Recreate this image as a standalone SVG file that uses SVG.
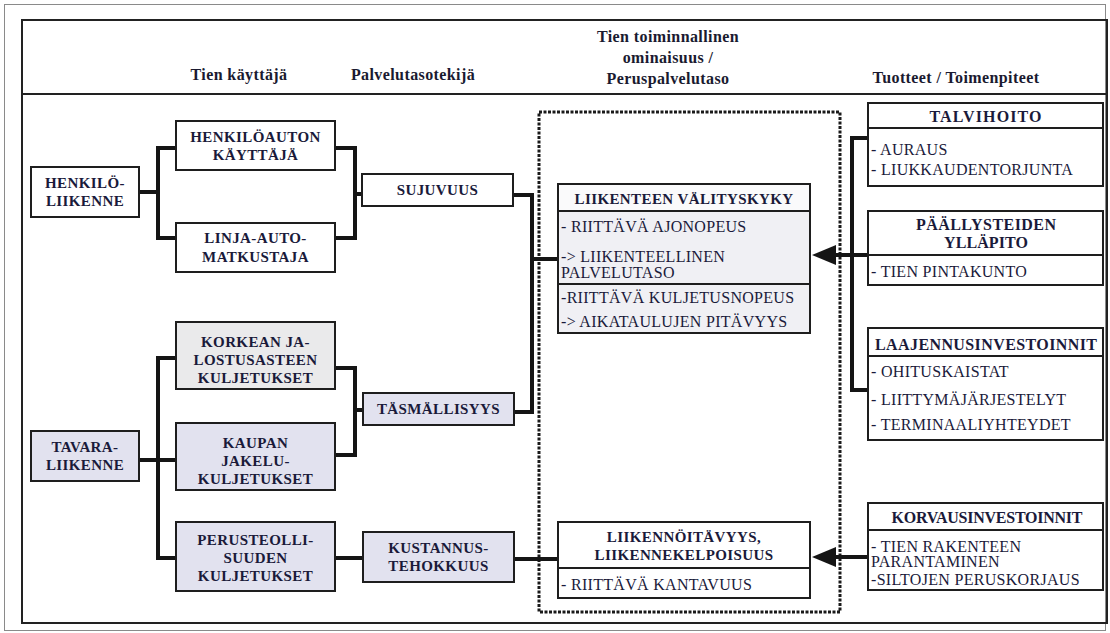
<svg xmlns="http://www.w3.org/2000/svg" width="1110" height="633" viewBox="0 0 1110 633">
<defs>
<style>
text{font-family:'Liberation Serif','Times New Roman','DejaVu Serif',serif}
.hdr{font-weight:bold;font-size:16px;fill:#1a1a30;text-anchor:middle;letter-spacing:0.4px}
.nt{font-weight:bold;font-size:15px;fill:#1a1a3a;text-anchor:middle;letter-spacing:0.4px}
.rh{font-weight:bold;font-size:16px;fill:#1a1a3a;text-anchor:middle}
.bt{font-size:16px;fill:#1a1a3a;letter-spacing:0.3px}
.box{stroke:#1e1e1e;stroke-width:2;fill:#ffffff}
.lav{fill:#e2e2ef}
.gry{fill:#eaeaeb}
.lt{fill:#f0f0f4}
.div{stroke:#1e1e1e;stroke-width:2}
.con{stroke:#151515;stroke-width:4;fill:none;stroke-linejoin:miter}
.ah{fill:#151515}
</style>
</defs>
<rect x="0" y="0" width="1110" height="633" fill="#ffffff"/>
<rect x="4.5" y="4.5" width="1101" height="626" fill="none" stroke="#8a8a8a" stroke-width="1"/>
<rect x="22" y="20" width="1085" height="603" fill="none" stroke="#222" stroke-width="2"/>
<line x1="22" y1="94" x2="1107" y2="94" stroke="#222" stroke-width="2"/>

<g id="headers">
<text class="hdr" x="239" y="80">Tien käyttäjä</text>
<text class="hdr" x="413" y="80">Palvelutasotekijä</text>
<text class="hdr" x="668" y="42">Tien toiminnallinen</text>
<text class="hdr" x="668" y="63">ominaisuus /</text>
<text class="hdr" x="668" y="84">Peruspalvelutaso</text>
<text class="hdr" x="956" y="83">Tuotteet / Toimenpiteet</text>
</g>

<g id="dotted-frame">
<rect x="539" y="112" width="301" height="500" fill="none" stroke="#1a1a1a" stroke-width="3" stroke-dasharray="3 1.5"/>
</g>

<g id="connectors">
<path class="con" d="M139,192 H158 M176,148 H158 V238 H176"/>
<path class="con" d="M335,148 H355 V238 H335 M355,194 H362"/>
<path class="con" d="M139,460 H176 M176,358 H158 V558 H176"/>
<path class="con" d="M335,368 H355 V455 H335 M355,410 H363"/>
<path class="con" d="M335,558 H363"/>
<path class="con" d="M513,195 H532 V412 H514 M532,259 H558"/>
<path class="con" d="M514,559 H558"/>
<path class="con" d="M868,138 H852 V390 H868"/>
<path class="con" d="M868,255 H834"/>
<polygon class="ah" points="812,255 836,245 836,265"/>
<path class="con" d="M868,557 H834"/>
<polygon class="ah" points="812,557 836,547 836,567"/>
</g>

<g id="henkiloliikenne">
<rect class="box" x="31" y="167" width="108" height="50"/>
<text class="nt" x="85" y="188">HENKILÖ-</text>
<text class="nt" x="85" y="206">LIIKENNE</text>
</g>
<g id="henkiloauton">
<rect class="box" x="176" y="121" width="159" height="49"/>
<text class="nt" x="255.5" y="142">HENKILÖAUTON</text>
<text class="nt" x="255.5" y="160">KÄYTTÄJÄ</text>
</g>
<g id="linja-auto">
<rect class="box" x="176" y="223" width="159" height="49"/>
<text class="nt" x="255.5" y="243">LINJA-AUTO-</text>
<text class="nt" x="255.5" y="262">MATKUSTAJA</text>
</g>
<g id="tavaraliikenne">
<rect class="box lav" x="31" y="431" width="108" height="50"/>
<text class="nt" x="85" y="452">TAVARA-</text>
<text class="nt" x="85" y="470">LIIKENNE</text>
</g>
<g id="korkean">
<rect class="box gry" x="176" y="322" width="159" height="67"/>
<text class="nt" x="255.5" y="347">KORKEAN JA-</text>
<text class="nt" x="255.5" y="365">LOSTUSASTEEN</text>
<text class="nt" x="255.5" y="383">KULJETUKSET</text>
</g>
<g id="kaupan">
<rect class="box lav" x="176" y="423" width="159" height="67"/>
<text class="nt" x="255.5" y="448">KAUPAN</text>
<text class="nt" x="255.5" y="466">JAKELU-</text>
<text class="nt" x="255.5" y="484">KULJETUKSET</text>
</g>
<g id="perusteolli">
<rect class="box lav" x="176" y="522" width="159" height="69"/>
<text class="nt" x="255.5" y="545">PERUSTEOLLI-</text>
<text class="nt" x="255.5" y="563">SUUDEN</text>
<text class="nt" x="255.5" y="581">KULJETUKSET</text>
</g>

<g id="sujuvuus">
<rect class="box" x="362" y="174" width="151" height="32"/>
<text class="nt" x="437.5" y="195">SUJUVUUS</text>
</g>
<g id="tasmallisyys">
<rect class="box lav" x="363" y="393" width="151" height="32"/>
<text class="nt" x="438.5" y="414">TÄSMÄLLISYYS</text>
</g>
<g id="kustannus">
<rect class="box lav" x="363" y="532" width="151" height="50"/>
<text class="nt" x="438.5" y="553">KUSTANNUS-</text>
<text class="nt" x="438.5" y="571">TEHOKKUUS</text>
</g>

<g id="valityskyky">
<rect class="box lt" x="558" y="184" width="252" height="149"/>
<rect x="559" y="185" width="250" height="26" fill="#fafafb"/>
<line class="div" x1="558" y1="211" x2="810" y2="211"/>
<line class="div" x1="558" y1="284" x2="810" y2="284"/>
<text class="nt" x="684" y="204">LIIKENTEEN VÄLITYSKYKY</text>
<text class="bt" x="561" y="232">- RIITTÄVÄ AJONOPEUS</text>
<text class="bt" x="561" y="262">-&gt; LIIKENTEELLINEN</text>
<text class="bt" x="561" y="278">PALVELUTASO</text>
<text class="bt" x="561" y="303">-RIITTÄVÄ KULJETUSNOPEUS</text>
<text class="bt" x="561" y="327">-&gt; AIKATAULUJEN PITÄVYYS</text>
</g>
<g id="liikennoitavyys">
<rect class="box" x="558" y="522" width="252" height="76" fill="#e9e9f4"/>
<line class="div" x1="558" y1="568" x2="810" y2="568"/>
<text class="nt" x="684" y="542">LIIKENNÖITÄVYYS,</text>
<text class="nt" x="684" y="560">LIIKENNEKELPOISUUS</text>
<text class="bt" x="561" y="590">- RIITTÄVÄ KANTAVUUS</text>
</g>

<g id="talvihoito">
<rect class="box" x="868" y="103" width="235" height="83"/>
<line class="div" x1="868" y1="128" x2="1103" y2="128"/>
<text class="rh" x="985.5" y="122" textLength="112" lengthAdjust="spacing">TALVIHOITO</text>
<text class="bt" x="871" y="155">- AURAUS</text>
<text class="bt" x="871" y="175">- LIUKKAUDENTORJUNTA</text>
</g>
<g id="paallysteiden">
<rect class="box" x="868" y="211" width="235" height="74"/>
<line class="div" x1="868" y1="255" x2="1103" y2="255"/>
<text class="rh" x="986" y="230" textLength="140" lengthAdjust="spacing">PÄÄLLYSTEIDEN</text>
<text class="rh" x="986" y="248" textLength="84" lengthAdjust="spacing">YLLÄPITO</text>
<text class="bt" x="871" y="277">- TIEN PINTAKUNTO</text>
</g>
<g id="laajennus">
<rect class="box" x="868" y="328" width="235" height="112"/>
<line class="div" x1="868" y1="356" x2="1103" y2="356"/>
<text class="rh" x="986" y="350" textLength="222" lengthAdjust="spacing">LAAJENNUSINVESTOINNIT</text>
<text class="bt" x="871" y="377">- OHITUSKAISTAT</text>
<text class="bt" x="871" y="405">- LIITTYMÄJÄRJESTELYT</text>
<text class="bt" x="871" y="430">- TERMINAALIYHTEYDET</text>
</g>
<g id="korvaus">
<rect class="box" x="868" y="503" width="235" height="87"/>
<line class="div" x1="868" y1="530" x2="1103" y2="530"/>
<text class="rh" x="987" y="523" textLength="191" lengthAdjust="spacing">KORVAUSINVESTOINNIT</text>
<text class="bt" x="871" y="552">- TIEN RAKENTEEN</text>
<text class="bt" x="871" y="567">PARANTAMINEN</text>
<text class="bt" x="871" y="585">-SILTOJEN PERUSKORJAUS</text>
</g>
</svg>
